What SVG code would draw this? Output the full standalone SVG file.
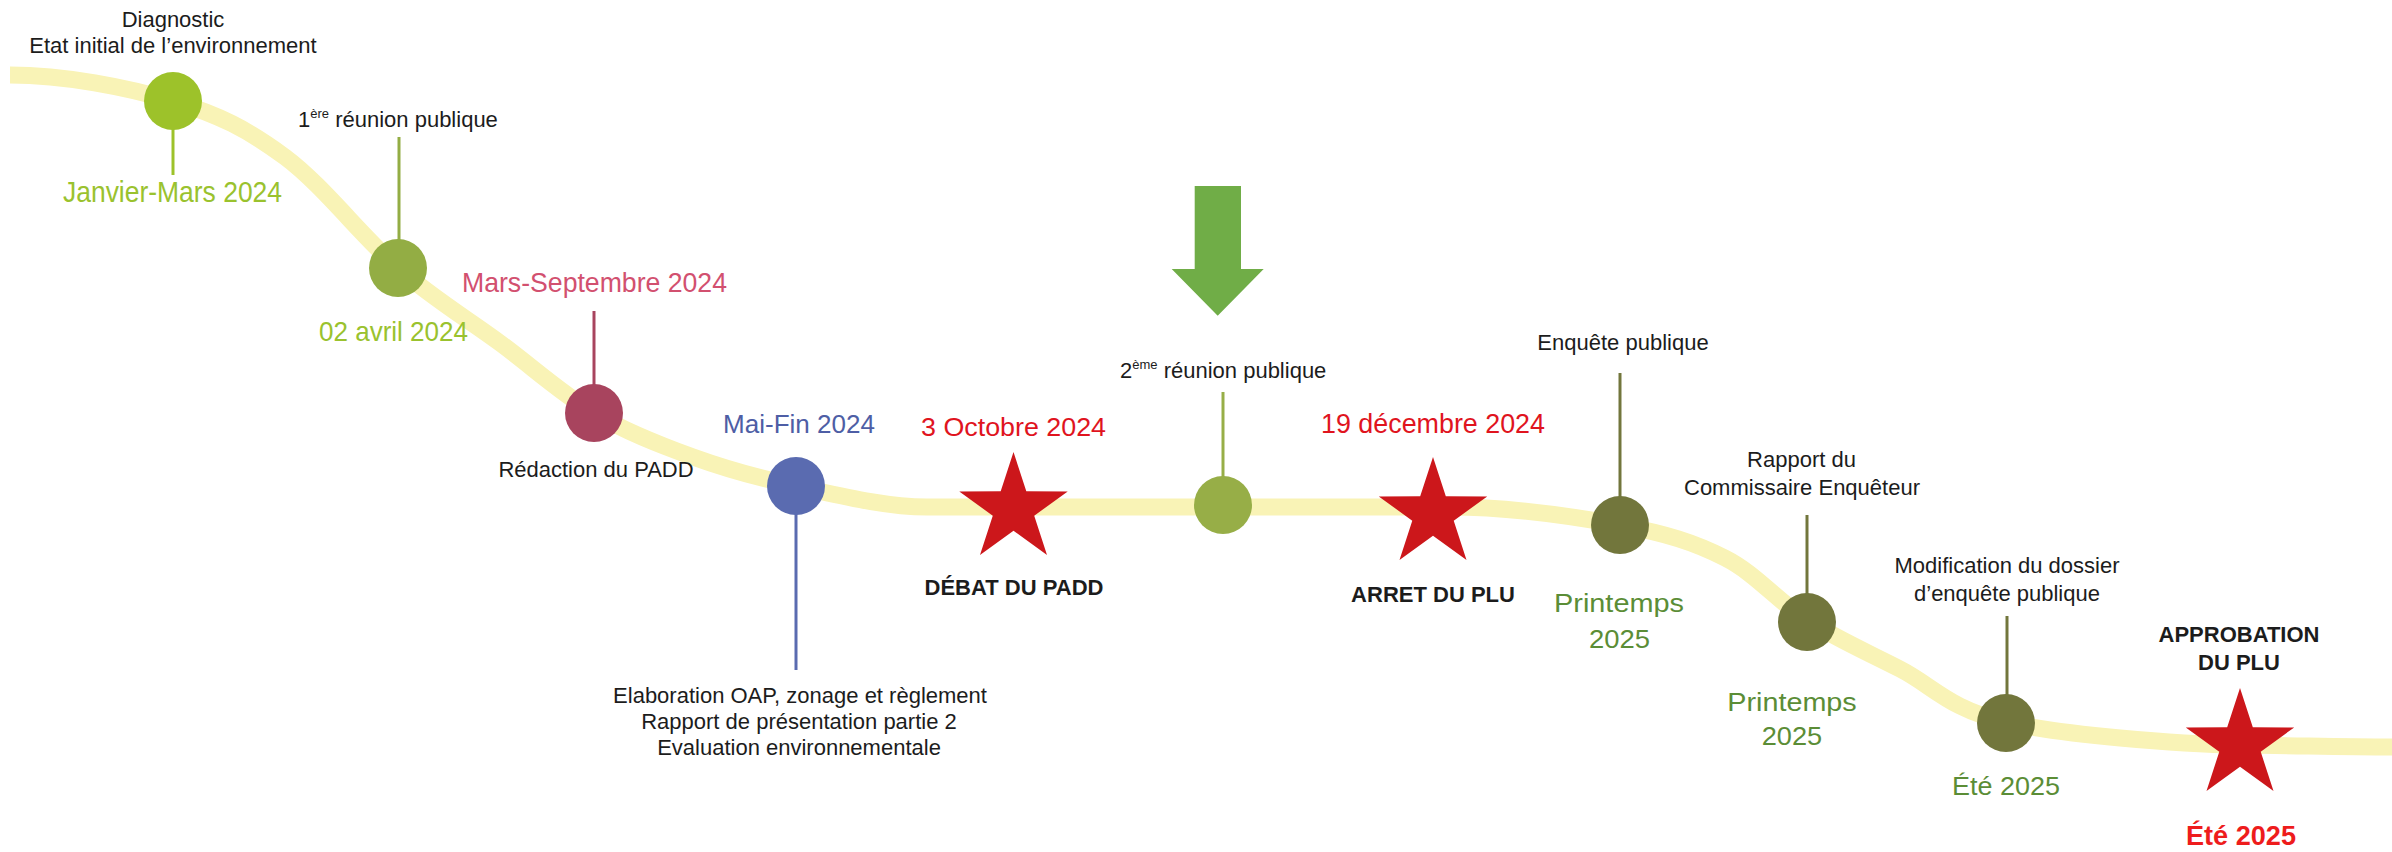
<svg xmlns="http://www.w3.org/2000/svg" width="2392" height="852" viewBox="0 0 2392 852">
<style>
text{font-family:"Liberation Sans",Arial,sans-serif}
.t{font-size:22px;fill:#1c1c1c}
.tm{font-size:22px;fill:#1c1c1c;text-anchor:middle}
.b{font-size:22px;font-weight:bold;fill:#1c1c1c;text-anchor:middle}
.d{text-anchor:middle}
.sup{font-size:13px}
.road{fill:none;stroke:#f9f3b6;stroke-width:17;stroke-linecap:butt}
.stem{stroke-width:3;fill:none}
.star{fill:#cc171b}
</style>
<defs>
<polygon id="star" points="0,-57 12.81,-17.64 54.21,-17.61 20.73,6.74 33.5,46.11 0,21.8 -33.5,46.11 -20.73,6.74 -54.21,-17.61 -12.81,-17.64"/>
</defs>
<rect width="2392" height="852" fill="#ffffff"/>
<g id="connectors">
<path id="timeline" class="road" d="M10,75 C64.3,75 127.2,87.3 173,101 C218.8,114.7 247.5,129.2 285,157 C322.5,184.8 362.2,237 398,268 C433.8,299 467.3,318.8 500,343 C532.7,367.2 561.8,394 594,413 C626.2,432 659.3,444.8 693,457 C726.7,469.2 757,477.7 796,486 C835,494.3 883.3,507 927,507 L1450,507 C1506.7,507 1574.2,516.5 1620,525 C1665.8,533.5 1693.8,542.2 1725,558 C1756.2,573.8 1777.8,601.5 1807,620 C1836.2,638.5 1866.8,652 1900,669 C1933.2,686 1949.3,709.3 2006,722 C2062.7,734.7 2175.7,744.3 2240,745 C2304.3,745.7 2341.3,747 2392,747"/>
<line class="stem" x1="173" y1="128" x2="173" y2="175" stroke="#9dc22a"/>
<line class="stem" x1="399" y1="137" x2="399" y2="242" stroke="#93ad44"/>
<line class="stem" x1="594" y1="311" x2="594" y2="387" stroke="#a8445e"/>
<line class="stem" x1="796" y1="512" x2="796" y2="670" stroke="#5a6bb0"/>
<line class="stem" x1="1223" y1="392" x2="1223" y2="480" stroke="#97ae47"/>
<line class="stem" x1="1620" y1="373" x2="1620" y2="499" stroke="#72763c"/>
<line class="stem" x1="1807" y1="515" x2="1807" y2="596" stroke="#72763c"/>
<line class="stem" x1="2007" y1="616" x2="2007" y2="697" stroke="#72763c"/>
</g>
<g id="node-diagnostic">
<circle cx="173" cy="101" r="29" fill="#9dc22a"/>
<text class="tm" x="173" y="27">Diagnostic</text>
<text class="tm" x="173" y="53">Etat initial de l’environnement</text>
<text class="d" x="172.5" y="202" font-size="29" fill="#9ac22e" textLength="219" lengthAdjust="spacingAndGlyphs">Janvier-Mars 2024</text>
</g>
<g id="node-reunion1">
<circle cx="398" cy="268" r="29" fill="#93ad44"/>
<text class="t" x="298" y="127">1<tspan class="sup" dy="-9">ère</tspan><tspan dy="9"> réunion publique</tspan></text>
<text class="d" x="393.5" y="341" font-size="28" fill="#9ac22e" textLength="149" lengthAdjust="spacingAndGlyphs">02 avril 2024</text>
</g>
<g id="node-padd">
<circle cx="594" cy="413" r="29" fill="#a8445e"/>
<text class="d" x="594.5" y="292" font-size="27.5" fill="#d2506f" textLength="265" lengthAdjust="spacingAndGlyphs">Mars-Septembre 2024</text>
<text class="tm" x="596" y="477">Rédaction du PADD</text>
</g>
<g id="node-oap">
<circle cx="796" cy="486" r="29" fill="#5a6bb0"/>
<text class="d" x="799" y="433" font-size="26.5" fill="#4e5ea5" textLength="152" lengthAdjust="spacingAndGlyphs">Mai-Fin 2024</text>
<text class="tm" x="800" y="703">Elaboration OAP, zonage et règlement</text>
<text class="tm" x="799" y="729">Rapport de présentation partie 2</text>
<text class="tm" x="799" y="755">Evaluation environnementale</text>
</g>
<g id="node-debat">
<use href="#star" class="star" x="1013.5" y="509"/>
<text class="d" x="1013.5" y="436" font-size="26.5" fill="#e0141e" textLength="185" lengthAdjust="spacingAndGlyphs">3 Octobre 2024</text>
<text class="b" x="1014" y="595">DÉBAT DU PADD</text>
</g>
<g id="node-reunion2">
<polygon points="1194.7,186 1241,186 1241,269 1263.7,269 1217.7,315.7 1171.7,269 1194.7,269" fill="#70ad47"/>
<circle cx="1223" cy="505" r="29" fill="#97ae47"/>
<text class="t" x="1120" y="378">2<tspan class="sup" dy="-9">ème</tspan><tspan dy="9"> réunion publique</tspan></text>
</g>
<g id="node-arret">
<use href="#star" class="star" x="1433" y="514"/>
<text class="d" x="1433" y="433" font-size="27" fill="#e0141e" textLength="224" lengthAdjust="spacingAndGlyphs">19 décembre 2024</text>
<text class="b" x="1433" y="602">ARRET DU PLU</text>
</g>
<g id="node-enquete">
<circle cx="1620" cy="525" r="29" fill="#72763c"/>
<text class="tm" x="1623" y="350">Enquête publique</text>
<text class="d" x="1619" y="612" font-size="26" fill="#5b8d36" textLength="130" lengthAdjust="spacingAndGlyphs">Printemps</text>
<text class="d" x="1619.5" y="648" font-size="26" fill="#5b8d36" textLength="61" lengthAdjust="spacingAndGlyphs">2025</text>
</g>
<g id="node-rapport">
<circle cx="1807" cy="622" r="29" fill="#72763c"/>
<text class="tm" x="1801.5" y="467">Rapport du</text>
<text class="tm" x="1802" y="495">Commissaire Enquêteur</text>
<text class="d" x="1792" y="711" font-size="26" fill="#5b8d36" textLength="129.5" lengthAdjust="spacingAndGlyphs">Printemps</text>
<text class="d" x="1792" y="745" font-size="26" fill="#5b8d36" textLength="60.5" lengthAdjust="spacingAndGlyphs">2025</text>
</g>
<g id="node-modification">
<circle cx="2006" cy="723" r="29" fill="#72763c"/>
<text class="tm" x="2007" y="573">Modification du dossier</text>
<text class="tm" x="2007" y="601">d’enquête publique</text>
<text class="d" x="2006" y="795" font-size="26" fill="#5b8d36" textLength="108" lengthAdjust="spacingAndGlyphs">Été 2025</text>
</g>
<g id="node-approbation">
<use href="#star" class="star" x="2240" y="745"/>
<text class="b" x="2239" y="642">APPROBATION</text>
<text class="b" x="2239" y="670">DU PLU</text>
<text class="d" x="2241" y="845" font-size="27" font-weight="bold" fill="#ee1c1c" textLength="110" lengthAdjust="spacingAndGlyphs">Été 2025</text>
</g>
</svg>
